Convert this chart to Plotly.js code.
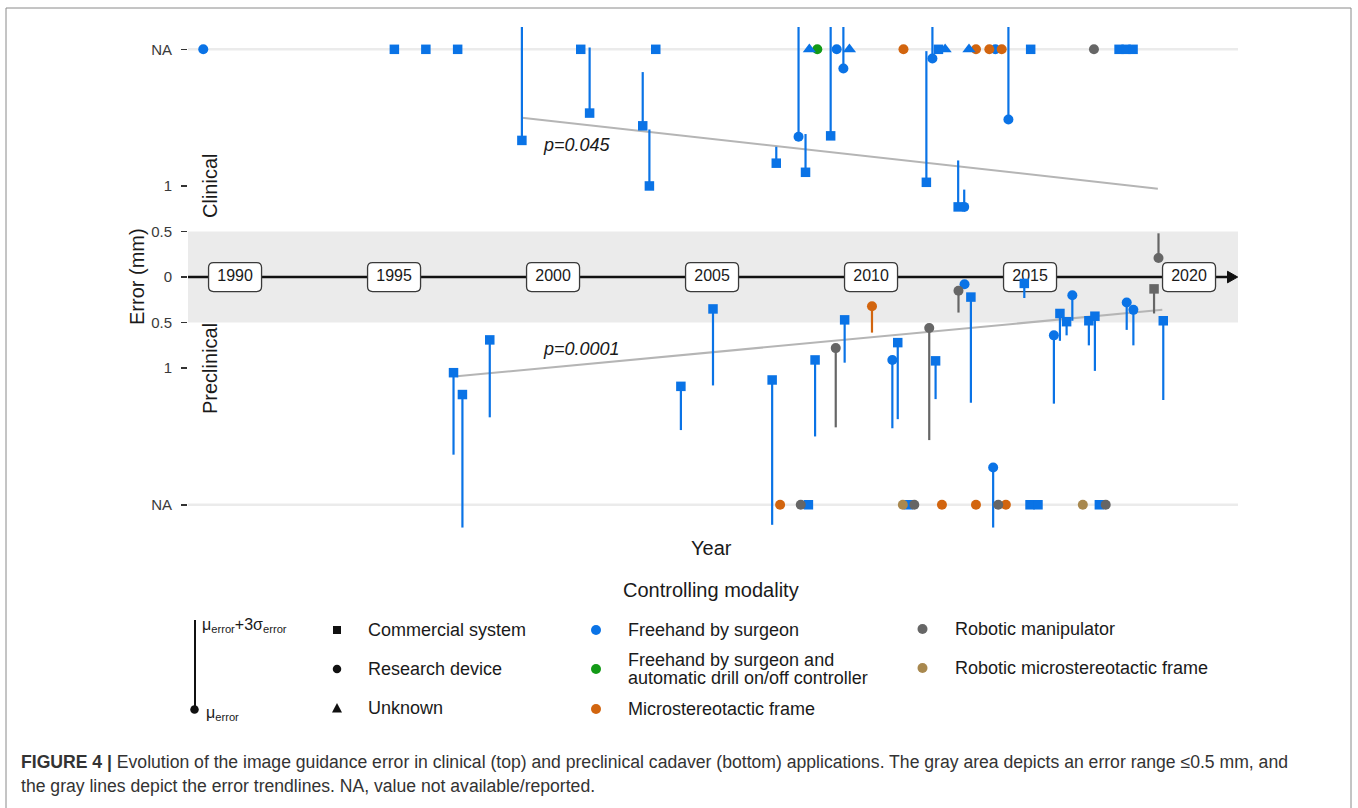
<!DOCTYPE html>
<html>
<head>
<meta charset="utf-8">
<script src="https://cdn.plot.ly/plotly-3.0.1.min.js"></script>
<style>
html,body{margin:0;padding:0;background:#fff;}
#chart{width:1358px;height:808px;}
</style>
</head>
<body>
<div id="chart"></div>
<script>
// ---------------- DATA ----------------
// Clinical studies with reported error (mm)
const clinYear     = [1999.02, 2001.15, 2002.82, 2003.03, 2007.02, 2007.72, 2007.94, 2008.73, 2009.13, 2011.74, 2011.93, 2012.74, 2012.93, 2014.32, 2019.04];
const clinMean     = [1.50, 1.80, 1.66, 1.00, 1.25, 1.54, 1.15, 1.55, 2.29, 1.04, 2.40, 0.77, 0.77, 1.73, 0.21];
const clinMean3Sd  = [2.75, 2.52, 2.25, 1.62, 1.43, 2.75, 1.57, 2.75, 2.75, 2.48, 2.75, 1.28, 0.96, 2.75, 0.48];
const clinDevice   = ['C','C','C','C','C','R','C','C','R','C','R','C','R','R','R'];
const clinModality = ['FS','FS','FS','FS','FS','FS','FS','FS','FS','FS','FS','FS','FS','FS','RM'];

// Clinical studies with error not available
const clinNAYear     = [1989.0, 1995.01, 1996.0, 1997.0, 2000.87, 2003.23, 2008.06, 2008.31, 2008.92, 2009.32, 2011.02, 2012.12, 2012.33, 2013.08, 2013.30, 2013.72, 2013.91, 2014.11, 2015.02, 2017.01, 2017.80, 2018.02, 2018.24];
const clinNADevice   = ['R','C','C','C','C','C','U','R','R','U','R','C','U','U','R','R','R','R','C','R','C','C','C'];
const clinNAModality = ['FS','FS','FS','FS','FS','FS','FS','FD','FS','FS','MF','FS','FS','FS','MF','MF','FS','MF','FS','RM','FS','FS','FS'];

// Preclinical (cadaver) studies with reported error (mm)
const preYear     = [1996.87, 1997.15, 1998.01, 2004.02, 2005.03, 2006.89, 2008.24, 2008.89, 2009.17, 2010.03, 2010.67, 2010.84, 2011.83, 2012.03, 2012.75, 2012.94, 2013.14, 2013.84, 2014.82, 2015.75, 2015.94, 2016.15, 2016.33, 2016.85, 2017.04, 2018.04, 2018.25, 2018.90, 2019.19];
const preMean     = [1.05, 1.29, 0.69, 1.20, 0.35, 1.13, 0.91, 0.78, 0.47, 0.32, 0.91, 0.72, 0.56, 0.92, 0.15, 0.08, 0.22, 2.09, 0.07, 0.64, 0.40, 0.49, 0.20, 0.48, 0.43, 0.28, 0.36, 0.13, 0.48];
const preMean3Sd  = [1.95, 2.75, 1.54, 1.68, 1.19, 2.72, 1.75, 1.65, 0.94, 0.61, 1.66, 1.56, 1.79, 1.34, 0.39, null, 1.38, 2.75, 0.23, 1.39, 0.70, 0.64, 0.48, 0.75, 1.03, 0.58, 0.75, 0.40, 1.35];
const preDevice   = ['C','C','C','C','C','C','C','R','C','R','R','C','R','C','R','R','C','R','C','R','C','C','R','C','C','R','R','C','C'];
const preModality = ['FS','FS','FS','FS','FS','FS','FS','RM','FS','MF','FS','FS','RM','FS','RM','FS','FS','FS','FS','FS','FS','FS','FS','FS','FS','FS','FS','RM','FS'];

// Preclinical studies with error not available
const preNAYear     = [2007.14, 2007.79, 2008.03, 2011.00, 2011.17, 2011.36, 2012.23, 2013.30, 2014.00, 2014.24, 2015.00, 2015.25, 2016.66, 2017.18, 2017.38];
const preNADevice   = ['R','R','C','R','C','R','R','R','R','R','C','C','R','C','R'];
const preNAModality = ['MF','RM','FS','RMF','FS','RM','MF','MF','RM','MF','FS','FS','RMF','FS','RM'];

// Trend lines
const clinTrendYear  = [1999.02, 2019.02];
const clinTrendError = [1.75, 0.97];
const preTrendYear   = [1996.97, 2019.16];
const preTrendError  = [1.09, 0.36];
const clinP = 'p=0.045';
const preP  = 'p=0.0001';

// Axis labels
const tickYears   = [1990, 1995, 2000, 2005, 2010, 2015, 2020];
const yTickVals   = [2.5, 1, 0.5, 0, -0.5, -1, -2.5];
const yTickText   = ['NA', '1', '0.5', '0', '0.5', '1', 'NA'];
const NA_LEVEL    = 2.5;

const deviceCodes   = ['C', 'R', 'U'];
const deviceLabels  = ['Commercial system', 'Research device', 'Unknown'];
const modalityCodes = ['FS', 'FD', 'MF', 'RM', 'RMF'];
const modalityLabels = [['Freehand by surgeon'], ['Freehand by surgeon and', 'automatic drill on/off controller'], ['Microstereotactic frame'], ['Robotic manipulator'], ['Robotic microstereotactic frame']];

// ---------------- STYLE ----------------
const FONT = 'Liberation Sans, Arial, Helvetica, sans-serif';
const colorOf = {FS: '#0A73E6', FD: '#139A17', MF: '#D2650F', RM: '#666666', RMF: '#A8884E'};
const symbolOf = {C: 'square', R: 'circle', U: 'triangle-up'};
const sizeOf = {C: 9.5, R: 10, U: 11.5};

const L = 188, R = 1238, T = 27, B = 528;
const W = 1358, H = 808;
const px = x => (x - L) / (R - L);
const py = y => (B - y) / (B - T);
const X_RANGE = [1988.52, 2021.54];
const Y_RANGE = [-2.755, 2.745];
const pxPerYear = (R - L) / (X_RANGE[1] - X_RANGE[0]);
const pxPerMm = (B - T) / (Y_RANGE[1] - Y_RANGE[0]);

// ---------------- TRACES ----------------
const traces = [];

// year labels along the timeline (text trace so markers can sit over it)
traces.push({
  type: 'scatter', mode: 'text', x: tickYears, y: tickYears.map(() => 0),
  text: tickYears.map(String), textfont: {family: FONT, size: 16, color: '#1a1a1a'},
  hoverinfo: 'skip', showlegend: false, cliponaxis: false
});

// trend lines
traces.push({type: 'scatter', mode: 'lines', x: clinTrendYear, y: clinTrendError,
  line: {color: '#B5B5B5', width: 2}, hoverinfo: 'skip', showlegend: false});
traces.push({type: 'scatter', mode: 'lines', x: preTrendYear, y: preTrendError.map(v => -v),
  line: {color: '#B5B5B5', width: 2}, hoverinfo: 'skip', showlegend: false});

// error lines (mean -> mean + 3 sd), per modality
modalityCodes.forEach(m => {
  const xs = [], ys = [];
  clinYear.forEach((yr, i) => {
    if (clinModality[i] === m && clinMean3Sd[i] !== null) { xs.push(yr, yr, null); ys.push(clinMean[i], clinMean3Sd[i], null); }
  });
  preYear.forEach((yr, i) => {
    if (preModality[i] === m && preMean3Sd[i] !== null) { xs.push(yr, yr, null); ys.push(-preMean[i], -preMean3Sd[i], null); }
  });
  if (xs.length) traces.push({type: 'scatter', mode: 'lines', x: xs, y: ys,
    line: {color: colorOf[m], width: 2.2}, hoverinfo: 'skip', showlegend: false, connectgaps: false});
});

// markers grouped by device and modality
deviceCodes.forEach(d => {
  modalityCodes.forEach(m => {
    const xs = [], ys = [];
    clinNAYear.forEach((yr, i) => { if (clinNADevice[i] === d && clinNAModality[i] === m) { xs.push(yr); ys.push(NA_LEVEL); } });
    preNAYear.forEach((yr, i) => { if (preNADevice[i] === d && preNAModality[i] === m) { xs.push(yr); ys.push(-NA_LEVEL); } });
    clinYear.forEach((yr, i) => { if (clinDevice[i] === d && clinModality[i] === m) { xs.push(yr); ys.push(clinMean[i]); } });
    preYear.forEach((yr, i) => { if (preDevice[i] === d && preModality[i] === m) { xs.push(yr); ys.push(-preMean[i]); } });
    if (xs.length) traces.push({type: 'scatter', mode: 'markers', x: xs, y: ys,
      marker: {symbol: symbolOf[d], size: sizeOf[d], color: colorOf[m], line: {width: 0}},
      hoverinfo: 'x+y', showlegend: false, cliponaxis: false});
  });
});

// ---------------- SHAPES ----------------
const shapes = [];
// shaded band |error| <= 0.5
shapes.push({type: 'rect', xref: 'paper', yref: 'y', x0: 0, x1: 1, y0: -0.5, y1: 0.5,
  fillcolor: '#EBEBEB', line: {width: 0}, layer: 'below'});
// NA guide lines
[NA_LEVEL, -NA_LEVEL].forEach(v => shapes.push({type: 'line', xref: 'paper', yref: 'y', x0: 0, x1: 1, y0: v, y1: v,
  line: {color: '#EBEBEB', width: 2.5}, layer: 'below'}));
// timeline with arrow
const arrowBase = X_RANGE[1] - 10.5 / pxPerYear;
shapes.push({type: 'line', xref: 'x', yref: 'y', x0: X_RANGE[0], x1: arrowBase + 0.05, y0: 0, y1: 0,
  line: {color: '#111111', width: 2.5}, layer: 'below'});
const ah = 5.8 / pxPerMm;
shapes.push({type: 'path', xref: 'x', yref: 'y', layer: 'below',
  path: `M ${arrowBase} ${-ah} L ${X_RANGE[1] - 0.3 / pxPerYear} 0 L ${arrowBase} ${ah} Z`,
  fillcolor: '#111111', line: {color: '#111111', width: 1}});
// rounded year boxes
const hw = 26.5 / pxPerYear, hh = 14.5 / pxPerMm, rx = 5 / pxPerYear, ry = 5 / pxPerMm;
tickYears.forEach(yr => {
  const x0 = yr - hw, x1 = yr + hw, y0 = -hh, y1 = hh;
  const p = `M ${x0 + rx} ${y0} L ${x1 - rx} ${y0} Q ${x1} ${y0} ${x1} ${y0 + ry} L ${x1} ${y1 - ry} Q ${x1} ${y1} ${x1 - rx} ${y1} ` +
            `L ${x0 + rx} ${y1} Q ${x0} ${y1} ${x0} ${y1 - ry} L ${x0} ${y0 + ry} Q ${x0} ${y0} ${x0 + rx} ${y0} Z`;
  shapes.push({type: 'path', xref: 'x', yref: 'y', path: p, fillcolor: '#FFFFFF',
    line: {color: '#3a3a3a', width: 1.3}, layer: 'below'});
});
// outer frame of the figure
shapes.push({type: 'rect', xref: 'paper', yref: 'paper', x0: px(6), x1: px(1351), y0: py(8), y1: py(830),
  line: {color: '#8a8a8a', width: 1}, fillcolor: 'rgba(0,0,0,0)', layer: 'above'});

// ---------------- LEGEND (drawn manually) ----------------
const annotations = [];
function pixShape(type, cx, cy, size, color, extra) {
  return Object.assign({type: type, xref: 'paper', yref: 'paper', xsizemode: 'pixel', ysizemode: 'pixel',
    xanchor: px(cx), yanchor: py(cy), x0: -size / 2, x1: size / 2, y0: -size / 2, y1: size / 2,
    fillcolor: color, line: {width: 0}}, extra || {});
}
function label(text, x, y, size, opts) {
  return Object.assign({text: text, xref: 'paper', yref: 'paper', x: px(x), y: py(y), showarrow: false,
    xanchor: 'left', yanchor: 'middle', font: {family: FONT, size: size, color: '#1a1a1a'}}, opts || {});
}

// error-bar key
shapes.push({type: 'line', xref: 'paper', yref: 'paper', x0: px(195), x1: px(195), y0: py(620), y1: py(709),
  line: {color: '#111111', width: 2}});
shapes.push(pixShape('circle', 194.5, 709.5, 8.5, '#111111'));
annotations.push(label('μ<sub>error</sub>+3σ<sub>error</sub>', 200, 625, 16));
annotations.push(label('μ<sub>error</sub>', 204, 713, 16));

// device (shape) key
const devKeyY = [630, 669, 708];
shapes.push(pixShape('rect', 337, devKeyY[0], 8, '#111111'));
shapes.push(pixShape('circle', 337, devKeyY[1], 8.5, '#111111'));
shapes.push({type: 'path', xref: 'paper', yref: 'paper', xsizemode: 'pixel', ysizemode: 'pixel',
  xanchor: px(337), yanchor: py(devKeyY[2]), path: 'M -5 -4.5 L 5 -4.5 L 0 5 Z', fillcolor: '#111111', line: {width: 0}});
deviceLabels.forEach((t, i) => annotations.push(label(t, 366, devKeyY[i], 18)));

// modality (colour) key
const modKeyX = [596, 596, 596, 922.5, 922.5];
const modKeyY = [630, 669, 709, 629, 668];
const modTextX = [626, 626, 626, 953, 953];
const lineGap = 18;
modalityCodes.forEach((m, i) => {
  shapes.push(pixShape('circle', modKeyX[i], modKeyY[i], 10, colorOf[m]));
  const lines = modalityLabels[i];
  lines.forEach((t, j) => {
    const yy = modKeyY[i] + (j - (lines.length - 1) / 2) * lineGap;
    annotations.push(label(t, modTextX[i], yy, 18));
  });
});

// titles / labels
annotations.push(label('Controlling modality', 711, 590, 20, {xanchor: 'center'}));
annotations.push(label('Year', 711, 548, 20, {xanchor: 'center'}));
annotations.push(label('Error (mm)', 137, 277, 20, {xanchor: 'center', textangle: -90}));
annotations.push(label('Clinical', 210, 186, 20, {xanchor: 'center', textangle: -90}));
annotations.push(label('Preclinical', 210, 369, 20, {xanchor: 'center', textangle: -90}));

// p-values next to trend lines
annotations.push({text: '<i>' + clinP + '</i>', xref: 'x', yref: 'y', x: 2000.75, y: 1.449, showarrow: false,
  font: {family: FONT, size: 18, color: '#1a1a1a'}});
annotations.push({text: '<i>' + preP + '</i>', xref: 'x', yref: 'y', x: 2000.91, y: -0.79, showarrow: false,
  font: {family: FONT, size: 18, color: '#1a1a1a'}});

// caption
const capFont = {family: FONT, size: 17.6, color: '#333333'};
annotations.push(label('<b>FIGURE 4 |</b> Evolution of the image guidance error in clinical (top) and preclinical cadaver (bottom) applications. The gray area depicts an error range ≤0.5 mm, and',
  19, 762, 17.6, {font: capFont}));
annotations.push(label('the gray lines depict the error trendlines. NA, value not available/reported.',
  19, 786, 17.6, {font: capFont}));

// ---------------- LAYOUT ----------------
const layout = {
  width: W, height: H,
  margin: {l: L, r: W - R, t: T, b: H - B, pad: 0},
  paper_bgcolor: '#FFFFFF', plot_bgcolor: '#FFFFFF',
  font: {family: FONT},
  showlegend: false,
  xaxis: {range: X_RANGE, showgrid: false, zeroline: false, showline: false, showticklabels: false, ticks: '', fixedrange: true},
  yaxis: {range: Y_RANGE, tickmode: 'array', tickvals: yTickVals, ticktext: yTickText,
    ticks: 'outside', ticklen: 6, tickwidth: 1.6, tickcolor: '#333333', ticklabelstandoff: 6,
    tickfont: {family: FONT, size: 15, color: '#3a3a3a'},
    showgrid: false, zeroline: false, showline: false, fixedrange: true},
  shapes: shapes,
  annotations: annotations
};

Plotly.newPlot('chart', traces, layout, {displayModeBar: false, staticPlot: true});
</script>
</body>
</html>
